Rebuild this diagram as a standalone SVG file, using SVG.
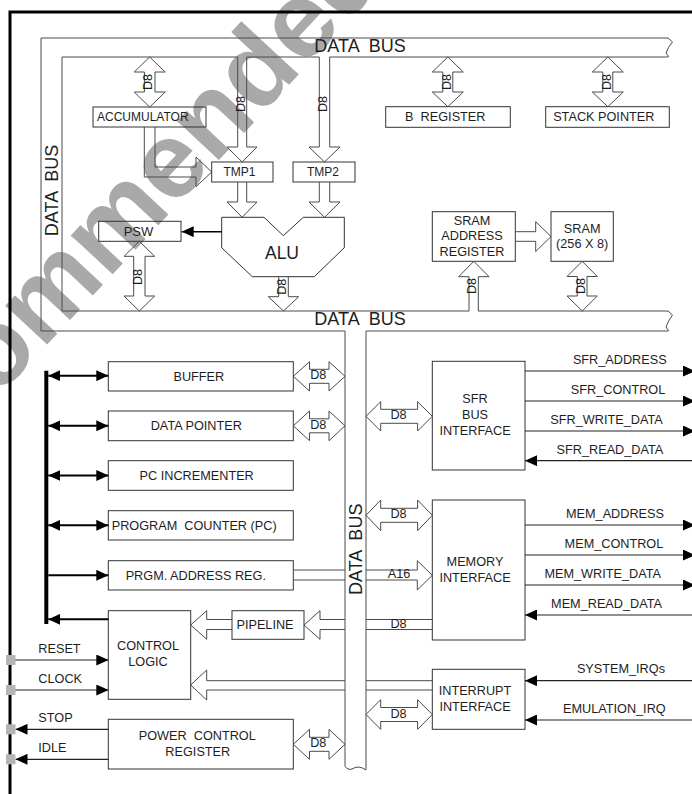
<svg xmlns="http://www.w3.org/2000/svg" width="692" height="794" viewBox="0 0 692 794">
<style>
text{font-family:"Liberation Sans",Arial,Helvetica,sans-serif;fill:#1e1e1e;font-size:12.7px}
.c{text-anchor:middle}
.e{text-anchor:end}
.bx{fill:none;stroke:#333;stroke-width:1}
.bus{fill:none;stroke:#4a4a4a;stroke-width:1}
.ba{fill:none;stroke:#4a4a4a;stroke-width:1}
.d8{font-size:7.5px}
.db{font-size:18px}
.sg{fill:none;stroke:#222;stroke-width:1.2}
.bk{fill:none;stroke:#000;stroke-width:2}
.pin{fill:#b5b5b5}
.wm{font-size:108px;font-weight:bold;fill:#a9a9a9}
</style>
<defs>
<marker id="ah" viewBox="0 0 12 11" refX="12" refY="5.5" markerWidth="12" markerHeight="11" markerUnits="userSpaceOnUse" orient="auto-start-reverse"><path d="M0,0L12,5.5L0,11Z" fill="#000"/></marker>
</defs>
<rect width="692" height="794" fill="#fff"/>
<g id="watermark">
<text class="wm" x="-138.2" y="543.1" transform="rotate(-47 -138.2 543.1)">Recommended</text>
</g>
<path id="frame" d="M10,794 V12 H692" stroke="#000" stroke-width="3" fill="none"/>
<g id="data-bus">
<path class="bus" d="M668,38 H41 V331 H345 V766.5 M366,770 V331 H668 M668,57 H329.7 M319.3,57 H246.7 M237.7,57 H62 V311 H469 M478.3,311 H668"/>
<path class="bus" d="M668,38 L672.5,42 Q668,47 666,53 L669,57"/>
<path class="bus" d="M668,311 L672.5,315 Q668,321 666,327 L669,331"/>
<path class="bus" d="M345,766.5 Q349,771 353,768.5 Q359,765 366,770"/>
<text class="db c" x="360" y="52" xml:space="preserve">DATA  BUS</text>
<text class="db c" x="360" y="325" xml:space="preserve">DATA  BUS</text>
<text class="db c" transform="translate(58,190.5) rotate(-90)" xml:space="preserve">DATA  BUS</text>
<text class="db c" transform="translate(361.5,549.3) rotate(-90)" xml:space="preserve">DATA  BUS</text>
</g>
<g id="accumulator"><rect class="bx" x="93" y="107" width="113" height="20"/><text x="97" y="121.3" style="font-size:12px">ACCUMULATOR</text></g>
<g id="tmp1"><rect class="bx" x="211.7" y="162" width="61.3" height="20"/><text class="c" x="239.5" y="176" style="font-size:12px">TMP1</text></g>
<g id="tmp2"><rect class="bx" x="293" y="162" width="62" height="20"/><text class="c" x="323" y="176" style="font-size:12px">TMP2</text></g>
<g id="b-register"><rect class="bx" x="385.7" y="106.7" width="124.6" height="20.6"/><text class="c" x="445.3" y="121" xml:space="preserve">B  REGISTER</text></g>
<g id="stack-pointer"><rect class="bx" x="545.7" y="106.7" width="123.6" height="20.6"/><text class="c" x="603.8" y="121">STACK POINTER</text></g>
<g id="psw"><rect class="bx" x="98.7" y="221.3" width="82.3" height="20"/><text class="c" x="138.5" y="235.7" style="font-size:13px">PSW</text></g>
<g id="alu"><path class="bx" d="M221.7,217.3 H264 L283.3,235.7 L303.3,217.3 H344.3 V247.7 L314.3,276.7 H252.3 L221.7,247.7 Z"/><text class="c" x="282" y="259" style="font-size:17.5px">ALU</text></g>
<g id="sram-address-register"><rect class="bx" x="432.3" y="211.7" width="83" height="49.6"/><text class="c" x="472" y="224.5">SRAM</text><text class="c" x="472" y="240">ADDRESS</text><text class="c" x="472" y="255.5">REGISTER</text></g>
<g id="sram"><rect class="bx" x="551" y="211.7" width="62.3" height="49.6"/><text class="c" x="582.2" y="232.5">SRAM</text><text class="c" x="582.2" y="248">(256 X 8)</text></g>
<g id="buffer"><rect class="bx" x="108.3" y="361.7" width="185" height="29.3"/><text class="c" x="198.8" y="380.5">BUFFER</text></g>
<g id="data-pointer"><rect class="bx" x="108.3" y="411" width="185" height="29.7"/><text class="c" x="196.3" y="430">DATA POINTER</text></g>
<g id="pc-incrementer"><rect class="bx" x="108.3" y="460.7" width="185" height="29.6"/><text class="c" x="196.7" y="480">PC INCREMENTER</text></g>
<g id="program-counter"><rect class="bx" x="108.3" y="510.7" width="185" height="29.3"/><text x="111.7" y="530" xml:space="preserve">PROGRAM  COUNTER (PC)</text></g>
<g id="prgm-address-reg"><rect class="bx" x="108.3" y="560.7" width="185" height="29.3"/><text class="c" x="195.8" y="580">PRGM. ADDRESS REG.</text></g>
<g id="control-logic"><rect class="bx" x="108.3" y="610.7" width="82.4" height="88.6"/><text class="c" x="148" y="650">CONTROL</text><text class="c" x="148" y="666">LOGIC</text></g>
<g id="pipeline"><rect class="bx" x="232" y="610.7" width="72" height="28.6"/><text class="c" x="265" y="629">PIPELINE</text></g>
<g id="power-control-register"><rect class="bx" x="108.3" y="719.3" width="185" height="49.7"/><text class="c" x="197.3" y="740" xml:space="preserve">POWER  CONTROL</text><text class="c" x="197.8" y="755.5">REGISTER</text></g>
<g id="sfr-bus-interface"><rect class="bx" x="432.3" y="361.3" width="92.7" height="108.7"/><text class="c" x="475" y="403.3">SFR</text><text class="c" x="475" y="419">BUS</text><text class="c" x="475" y="434.5">INTERFACE</text></g>
<g id="memory-interface"><rect class="bx" x="432.3" y="500" width="92.7" height="140"/><text class="c" x="475" y="566">MEMORY</text><text class="c" x="475" y="581.7">INTERFACE</text></g>
<g id="interrupt-interface"><rect class="bx" x="432.3" y="669.3" width="92.7" height="60"/><text class="c" x="475" y="695">INTERRUPT</text><text class="c" x="475" y="711">INTERFACE</text></g>
<g id="connectors">
<path class="ba" d="M149.7,57 L165.2,72 L155,72 L155,92 L165.2,92 L149.7,107 L134.2,92 L144.4,92 L144.4,72 L134.2,72 Z"/>
<path class="ba" d="M447.8,57 L463.3,72 L452.8,72 L452.8,92 L463.3,92 L447.8,106.7 L432.3,92 L442.8,92 L442.8,72 L432.3,72 Z"/>
<path class="ba" d="M607.8,57 L623.3,72 L612.8,72 L612.8,92 L623.3,92 L607.8,106.7 L592.3,92 L602.8,92 L602.8,72 L592.3,72 Z"/>
<path class="ba" d="M139.3,241.3 L154.7,256.3 L145,256.3 L145,296 L154.7,296 L139.3,311 L124,296 L133.7,296 L133.7,256.3 L124,256.3 Z"/>
<path class="ba" d="M582.2,261.3 L597.3,276.5 L587,276.5 L587,296 L597.3,296 L582.2,311 L567,296 L577.3,296 L577.3,276.5 L567,276.5 Z"/>
<path class="ba" d="M237.7,57 V147 H227 L242.2,162 L257,147 H246.7 V57"/>
<path class="ba" d="M319.3,57 V147 H309 L324.5,162 L340,147 H329.7 V57"/>
<path class="ba" d="M237.7,182 V202 H227 L242.2,217.3 L257,202 H246.7 V182"/>
<path class="ba" d="M319.3,182 V202 H309 L324.5,217.3 L340,202 H329.7 V182"/>
<path class="ba" d="M278.7,276.7 V296.7 H268.3 L283.5,311 L298.7,296.7 H288.3 V276.7"/>
<path class="ba" d="M469,311 V276.7 H458.7 L473.8,261.3 L489,276.7 H478.3 V311"/>
<path class="ba" d="M144.3,127 V177 H196 V186.7 L211.7,172 L196,157 V167 H155 V127"/>
<path class="ba" d="M515.3,231.7 H535.7 V221.7 L551,236.5 L535.7,251.5 V241.3 H515.3"/>
<path class="ba" d="M293.3,376.3 L309.5,361.7 V369.3 H329 V361.7 L345,376.3 L329,391 V383.3 H309.5 V391 Z"/>
<path class="ba" d="M293.3,425.8 L309.5,411 V418.8 H329 V411 L345,425.8 L329,440.7 V432.8 H309.5 V440.7 Z"/>
<path class="ba" d="M293.3,744.3 L309.5,729.3 V737.3 H329 V729.3 L345,744.3 L329,759.3 V751.3 H309.5 V759.3 Z"/>
<path class="ba" d="M366,416.3 L380.7,401.7 V409.3 H417.6 V401.7 L432.3,416.3 L417.6,431 V423.3 H380.7 V431 Z"/>
<path class="ba" d="M366,515.3 L380.7,500 V508.3 H417.6 V500 L432.3,515.3 L417.6,530.7 V522.3 H380.7 V530.7 Z"/>
<path class="ba" d="M366,714.5 L380.7,699.7 V707.5 H417.6 V699.7 L432.3,714.5 L417.6,729.3 V721.5 H380.7 V729.3 Z"/>
<path class="ba" d="M293.3,570 H345 M293.3,580 H345 M366,570 H417.3 V560.7 L432.3,575.3 L417.3,590 V580 H366"/>
<path class="ba" d="M345,619.5 H320 V610.7 L304,625 L320,639.3 V629.5 H345 M366,619.5 H432.3 M366,629.5 H432.3"/>
<path class="ba" d="M232,619.5 H206.7 V610.7 L190.7,625 L206.7,639.3 V629.5 H232"/>
<path class="ba" d="M345,680.7 H206.7 V670 L190.7,685 L206.7,700 V690 H345 M366,680.7 H432.3 M366,690 H432.3"/>
<g class="d8">
<text class="c" transform="translate(152.4,82) rotate(-90)">D8</text>
<text class="c" transform="translate(244.9,104) rotate(-90)">D8</text>
<text class="c" transform="translate(327.2,104) rotate(-90)">D8</text>
<text class="c" transform="translate(450.5,82) rotate(-90)">D8</text>
<text class="c" transform="translate(610.5,82) rotate(-90)">D8</text>
<text class="c" transform="translate(142,277) rotate(-90)">D8</text>
<text class="c" transform="translate(286.2,286.7) rotate(-90)">D8</text>
<text class="c" transform="translate(476.4,286) rotate(-90)">D8</text>
<text class="c" transform="translate(584.9,286) rotate(-90)">D8</text>
<text class="c" x="318.3" y="379.3">D8</text>
<text class="c" x="318.3" y="428.8">D8</text>
<text class="c" x="318.3" y="747.3">D8</text>
<text class="c" x="398.5" y="419.3">D8</text>
<text class="c" x="398.5" y="518.3">D8</text>
<text class="c" x="398.5" y="717.5">D8</text>
<text class="c" x="399" y="578">A16</text>
<text class="c" x="398.5" y="627.5">D8</text>
</g>
<line x1="46.3" y1="370.7" x2="46.3" y2="624" stroke="#000" stroke-width="4"/>
<line class="bk" x1="48.3" y1="375.7" x2="108.3" y2="375.7" marker-start="url(#ah)" marker-end="url(#ah)"/>
<line class="bk" x1="48.3" y1="425.8" x2="108.3" y2="425.8" marker-start="url(#ah)" marker-end="url(#ah)"/>
<line class="bk" x1="48.3" y1="475.5" x2="108.3" y2="475.5" marker-start="url(#ah)" marker-end="url(#ah)"/>
<line class="bk" x1="48.3" y1="525.3" x2="108.3" y2="525.3" marker-start="url(#ah)" marker-end="url(#ah)"/>
<line class="bk" x1="48.3" y1="575.3" x2="108.3" y2="575.3" marker-end="url(#ah)"/>
<line class="bk" x1="108.3" y1="619.3" x2="48.3" y2="619.3" marker-end="url(#ah)"/>
<line x1="221.7" y1="231.7" x2="181.7" y2="231.7" stroke="#000" stroke-width="1.5" marker-end="url(#ah)"/>
<line class="sg" x1="525" y1="371" x2="695" y2="371" marker-end="url(#ah)"/>
<line class="sg" x1="525" y1="401" x2="695" y2="401" marker-end="url(#ah)"/>
<line class="sg" x1="525" y1="431" x2="695" y2="431" marker-end="url(#ah)"/>
<line class="sg" x1="692" y1="460.7" x2="525" y2="460.7" marker-end="url(#ah)"/>
<line class="sg" x1="525" y1="525" x2="695" y2="525" marker-end="url(#ah)"/>
<line class="sg" x1="525" y1="555" x2="695" y2="555" marker-end="url(#ah)"/>
<line class="sg" x1="525" y1="585" x2="695" y2="585" marker-end="url(#ah)"/>
<line class="sg" x1="692" y1="615" x2="525" y2="615" marker-end="url(#ah)"/>
<line class="sg" x1="692" y1="680.7" x2="525" y2="680.7" marker-end="url(#ah)"/>
<line class="sg" x1="692" y1="720" x2="525" y2="720" marker-end="url(#ah)"/>
<line class="sg" x1="15" y1="660" x2="108.3" y2="660" marker-end="url(#ah)"/>
<line class="sg" x1="15" y1="690" x2="108.3" y2="690" marker-end="url(#ah)"/>
<line class="sg" x1="108.3" y1="729.3" x2="15.5" y2="729.3" marker-end="url(#ah)"/>
<line class="sg" x1="108.3" y1="759.3" x2="15.5" y2="759.3" marker-end="url(#ah)"/>
<rect class="pin" x="6" y="655" width="9.5" height="10"/>
<rect class="pin" x="6" y="685" width="9.5" height="10"/>
<rect class="pin" x="6" y="724.3" width="9.5" height="10"/>
<rect class="pin" x="6" y="754.3" width="9.5" height="10"/>
<text class="e" x="666.7" y="364.3">SFR_ADDRESS</text>
<text class="e" x="665.3" y="394">SFR_CONTROL</text>
<text class="e" x="662.7" y="424">SFR_WRITE_DATA</text>
<text class="e" x="663.3" y="454.3">SFR_READ_DATA</text>
<text class="e" x="664" y="518.3">MEM_ADDRESS</text>
<text class="e" x="663.3" y="548.3">MEM_CONTROL</text>
<text class="e" x="661" y="577.7">MEM_WRITE_DATA</text>
<text class="e" x="662" y="607.7">MEM_READ_DATA</text>
<text class="e" x="665" y="672.7">SYSTEM_IRQs</text>
<text class="e" x="665.7" y="712.7">EMULATION_IRQ</text>
<text x="38.3" y="652.7">RESET</text>
<text x="38.3" y="682.7">CLOCK</text>
<text x="38.3" y="722">STOP</text>
<text x="38.3" y="751.7">IDLE</text>
</g>
</svg>
